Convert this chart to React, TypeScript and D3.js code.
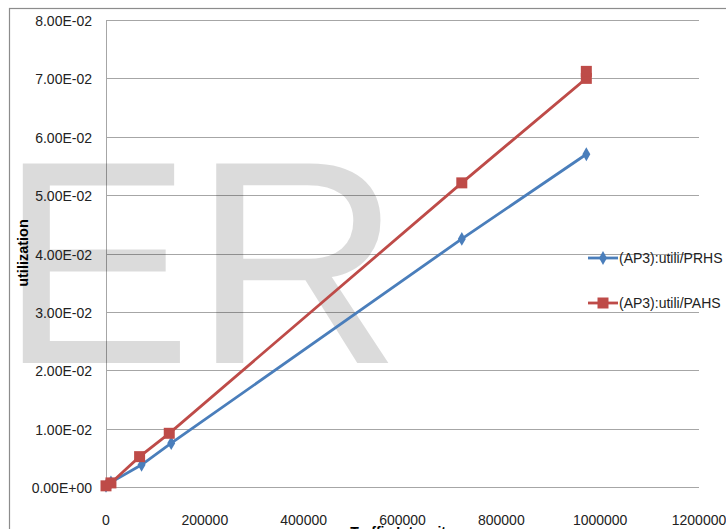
import React from "react";
import * as d3 from "d3";

const xTicks = [0, 200000, 400000, 600000, 800000, 1000000, 1200000];
const yTicks = [0, 0.01, 0.02, 0.03, 0.04, 0.05, 0.06, 0.07, 0.08];
const yTickLabels = ["0.00E+00", "1.00E-02", "2.00E-02", "3.00E-02", "4.00E-02", "5.00E-02", "6.00E-02", "7.00E-02", "8.00E-02"];

const prhsX = [0, 10000, 72000, 132000, 720000, 972000];
const prhsY = [0.0002, 0.0008, 0.0038, 0.0075, 0.0425, 0.0570];
const pahsX = [0, 10000, 68000, 128000, 720000, 972000, 972000];
const pahsY = [0.0002, 0.0007, 0.0052, 0.0092, 0.0521, 0.0700, 0.0712];

const seriesNames = ["(AP3):utili/PRHS", "(AP3):utili/PAHS"];
const xTitle = "Traffic Intensity";
const yTitle = "utilization";
const watermark = "ER";

const BLUE = "#4a7ebb";
const RED = "#be4b48";
const FONT = "'Liberation Sans Narrow', 'Liberation Sans', Arial, sans-serif";

export default function App() {
  const W = 726, H = 529;
  const left = 106, right = 699, top = 20, bottom = 487;
  const x = d3.scaleLinear().domain([0, 1200000]).range([left, right]);
  const y = d3.scaleLinear().domain([0, 0.08]).range([bottom, top]);

  const line = d3.line<[number, number]>().x(d => x(d[0])).y(d => y(d[1]));
  const blueData: [number, number][] = prhsX.map((v, i) => [v, prhsY[i]]);
  const redData: [number, number][] = pahsX.map((v, i) => [v, pahsY[i]]);
  const diamond = d3.symbol().type(d3.symbolDiamond).size(55)()!;
  const square = d3.symbol().type(d3.symbolSquare).size(121)()!;

  return (
    <svg width={W} height={H} style={{ position: "absolute", left: 0, top: 0, background: "#fff" }} fontFamily={FONT}>
      <rect x={9.5} y={8.5} width={W + 20} height={H + 20} fill="#fff" stroke="#8c8c8c" strokeWidth={1.2} />
      {yTicks.map((t, i) => (
        <line key={"g" + i} x1={left} x2={right} y1={Math.round(y(t)) + 0.5} y2={Math.round(y(t)) + 0.5} stroke="#a6a6a6" strokeWidth={1} />
      ))}
      <line x1={left + 0.5} x2={left + 0.5} y1={top} y2={bottom + 1} stroke="#a6a6a6" strokeWidth={1} />
      <text x={-1} y={363} fontSize={290} fontFamily="'Liberation Sans', Arial, sans-serif" fill="#000" fillOpacity={0.14}>{watermark}</text>
      <path d={line(blueData)!} fill="none" stroke={BLUE} strokeWidth={2.8} />
      <path d={line(redData)!} fill="none" stroke={RED} strokeWidth={2.8} />
      {blueData.map((d, i) => (
        <path key={"b" + i} d={diamond} transform={`translate(${x(d[0])},${y(d[1])})`} fill={BLUE} />
      ))}
      {redData.map((d, i) => (
        <path key={"r" + i} d={square} transform={`translate(${x(d[0])},${y(d[1])})`} fill={RED} />
      ))}
      {yTicks.map((t, i) => (
        <text key={"yl" + i} x={92} y={y(t) + 6} textAnchor="end" fontSize={14} fill="#222">{yTickLabels[i]}</text>
      ))}
      {xTicks.map((t, i) => (
        <text key={"xl" + i} x={x(t)} y={525} textAnchor="middle" fontSize={14} fill="#222">{String(t)}</text>
      ))}
      <text transform="translate(28,253) rotate(-90)" textAnchor="middle" fontSize={14.5} fontWeight="bold" fill="#000">{yTitle}</text>
      <text x={402} y={537} textAnchor="middle" fontSize={14} fontWeight="bold" fill="#000">{xTitle}</text>
      <g>
        <line x1={588} x2={618} y1={258} y2={258} stroke={BLUE} strokeWidth={2.8} />
        <path d={diamond} transform="translate(603,258)" fill={BLUE} />
        <text x={619} y={263} fontSize={14} fill="#222">{seriesNames[0]}</text>
        <line x1={588} x2={618} y1={303} y2={303} stroke={RED} strokeWidth={2.8} />
        <path d={square} transform="translate(603,303)" fill={RED} />
        <text x={619} y={308} fontSize={14} fill="#222">{seriesNames[1]}</text>
      </g>
    </svg>
  );
}
